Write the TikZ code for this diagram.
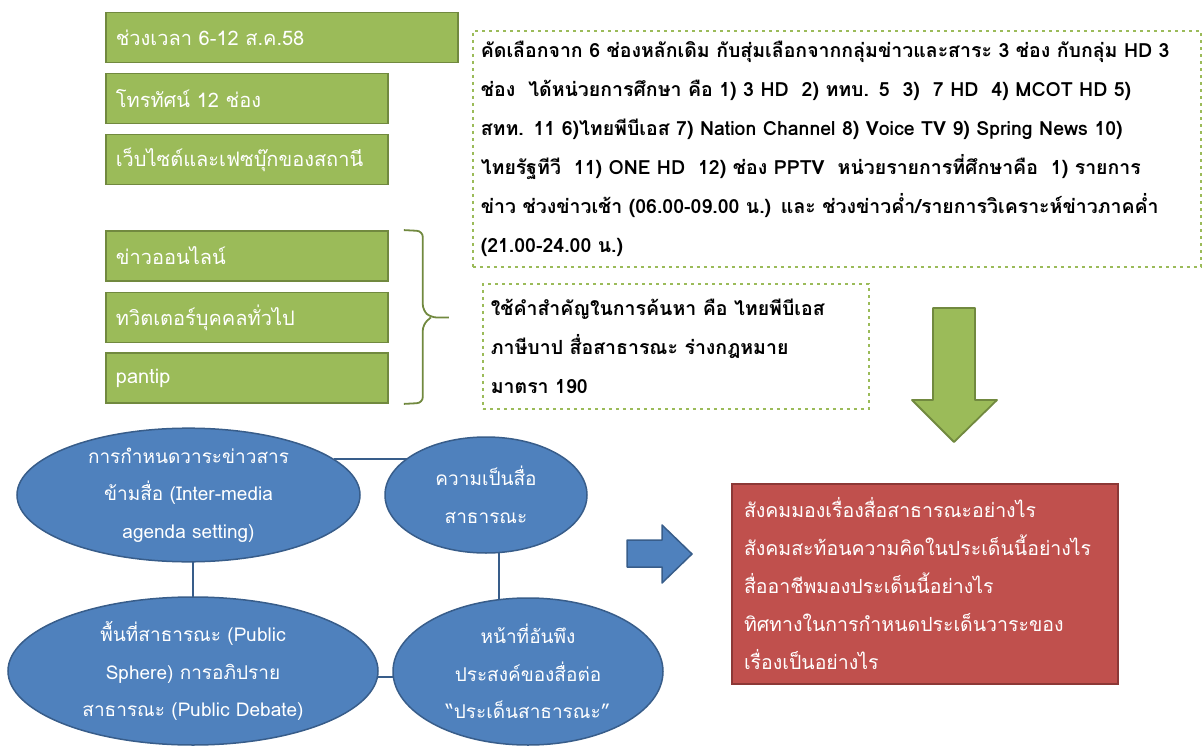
\documentclass[tikz,border=0pt]{standalone}
\usepackage{fontspec}
\usepackage{xcolor}
\usepackage{tikz}
\usetikzlibrary{arrows}
\usetikzlibrary{positioning}
\usetikzlibrary{calc}
\usetikzlibrary{shapes.geometric}
\usetikzlibrary{backgrounds}

\newfontfamily\thaifont[Script=Thai]{Loma}

\definecolor{greenfill}{HTML}{9BBB59}
\definecolor{greenedge}{HTML}{71893F}
\definecolor{bluefill}{HTML}{4F81BD}
\definecolor{blueedge}{HTML}{385D8A}
\definecolor{redfill}{HTML}{C0504D}
\definecolor{rededge}{HTML}{8C3836}

\tikzset{
  greenbox/.style={draw=greenedge, fill=greenfill, line width=1.8pt, text=white,
    anchor=west, minimum height=50pt, inner xsep=10pt, align=left,
    font=\thaifont\fontsize{20pt}{22pt}\selectfont},
  dashbox/.style={draw=greenfill, line width=1.6pt, dash pattern=on 3pt off 4pt,
    anchor=north west, inner xsep=8pt, align=left,
    font=\thaifont\bfseries\fontsize{19.5pt}{39pt}\selectfont},
  bubble/.style={ellipse, draw=blueedge, fill=bluefill, line width=1.5pt, text=white,
    inner sep=0pt, align=center, font=\thaifont\fontsize{19pt}{37.5pt}\selectfont},
  link/.style={draw=blueedge, line width=2.5pt},
  redbox/.style={draw=rededge, fill=redfill, line width=2pt, text=white,
    anchor=north west, inner xsep=12pt, align=left,
    font=\thaifont\fontsize{19.5pt}{38pt}\selectfont},
}

\begin{document}
\begin{tikzpicture}[x=1pt,y=-1pt]
\useasboundingbox (0,0) rectangle (1204,751);

% sources
\node[greenbox, text width=332pt] at (105,37.5) (period) {ช่วงเวลา 6-12 ส.ค.58};
\node[greenbox, text width=262pt] at (105,98.5) (tv) {โทรทัศน์ 12 ช่อง};
\node[greenbox, text width=262pt] at (105,159.5) (web) {เว็บไซต์และเฟซบุ๊กของสถานี};
\node[greenbox, text width=262pt] at (105,256) (online) {ข่าวออนไลน์};
\node[greenbox, text width=262pt] at (105,317.5) (twitter) {ทวิตเตอร์บุคคลทั่วไป};
\node[greenbox, text width=262pt] at (105,378) (pantip) {pantip};

% brace
\coordinate (bracetop) at ([xshift=15pt]online.north east);
\coordinate (bracebot) at ([xshift=15pt]pantip.south east);
\coordinate (bracetip) at ([xshift=60pt]twitter.east);
\draw[greenedge, line width=1.8pt, rounded corners=6pt]
  (bracetop) -- ++(19,1) -- ($(bracetip)+(-26,-7)$) -- ($(bracetip)+(-18,0)$) -- (bracetip);
\draw[greenedge, line width=1.8pt, rounded corners=6pt]
  (bracebot) -- ++(19,-1) -- ($(bracetip)+(-26,7)$) -- ($(bracetip)+(-18,0)$);

% samples
\node[dashbox, minimum width=728pt, minimum height=236pt, text width=712pt] at (472,30) (sample)
  {คัดเลือกจาก 6 ช่องหลักเดิม กับสุ่มเลือกจากกลุ่มข่าวและสาระ 3 ช่อง กับกลุ่ม HD 3\\
   ช่อง~ ได้หน่วยการศึกษา คือ 1) 3 HD~ 2) ททบ. 5~ 3)~ 7 HD~ 4) MCOT HD 5)\\
   สทท. 11 6)ไทยพีบีเอส 7) Nation Channel 8) Voice TV 9) Spring News 10)\\
   ไทยรัฐทีวี~ 11) ONE HD~ 12) ช่อง PPTV~ หน่วยรายการที่ศึกษาคือ~ 1) รายการ\\
   ข่าว ช่วงข่าวเช้า (06.00-09.00 น.) และ ช่วงข่าวค่ำ/รายการวิเคราะห์ข่าวภาคค่ำ\\
   (21.00-24.00 น.)};
\node[dashbox, minimum width=386pt, minimum height=125pt, text width=370pt] at (482,283) (keywords)
  {ใช้คำสำคัญในการค้นหา คือ ไทยพีบีเอส\\
   ภาษีบาป สื่อสาธารณะ ร่างกฎหมาย\\
   มาตรา 190};

% concepts
\node[bubble, minimum width=343pt, minimum height=130pt] at (188.5,495) (agenda)
  {การกำหนดวาระข่าวสาร\\ข้ามสื่อ (Inter-media\\agenda setting)};
\node[bubble, minimum width=202pt, minimum height=116pt] at (486,495) (public)
  {ความเป็นสื่อ\\สาธารณะ};
\node[bubble, minimum width=370pt, minimum height=148pt] at (193,671) (sphere)
  {พื้นที่สาธารณะ (Public\\Sphere) การอภิปราย\\สาธารณะ (Public Debate)};
\node[bubble, minimum width=270pt, minimum height=147pt] at (528,671.5) (duty)
  {หน้าที่อันพึง\\ประสงค์ของสื่อต่อ\\“ประเด็นสาธารณะ”};

\begin{scope}[on background layer]
\path[link] (agenda.14) -- (agenda.14 -| public.center);
\path[link] (agenda.center -| sphere.center) -- (sphere.center);
\path[link] ([xshift=13pt]public.center) -- ([xshift=13pt]public.center |- duty.center);
\path[link] ([yshift=-6pt]sphere.center) -- ([yshift=-6pt]sphere.center -| duty.center);
\end{scope}

% questions
\node[redbox, minimum width=386pt, minimum height=200pt, text width=362pt] at (731,483) (questions)
  {สังคมมองเรื่องสื่อสาธารณะอย่างไร\\
   สังคมสะท้อนความคิดในประเด็นนี้อย่างไร\\
   สื่ออาชีพมองประเด็นนี้อย่างไร\\
   ทิศทางในการกำหนดประเด็นวาระของ\\
   เรื่องเป็นอย่างไร};

% block arrows
\draw[draw=greenedge, fill=greenfill, line width=1.8pt, line join=round]
  (933,308) -- (975,308) -- (975,400) -- (997,400) -- (954,442) -- (912,400) -- (933,400) -- cycle;
\draw[draw=blueedge, fill=bluefill, line width=1.5pt, line join=round]
  (627,540) -- (662,540) -- (662,525) -- (692,554) -- (662,583) -- (662,567) -- (627,567) -- cycle;
\end{tikzpicture}
\end{document}
